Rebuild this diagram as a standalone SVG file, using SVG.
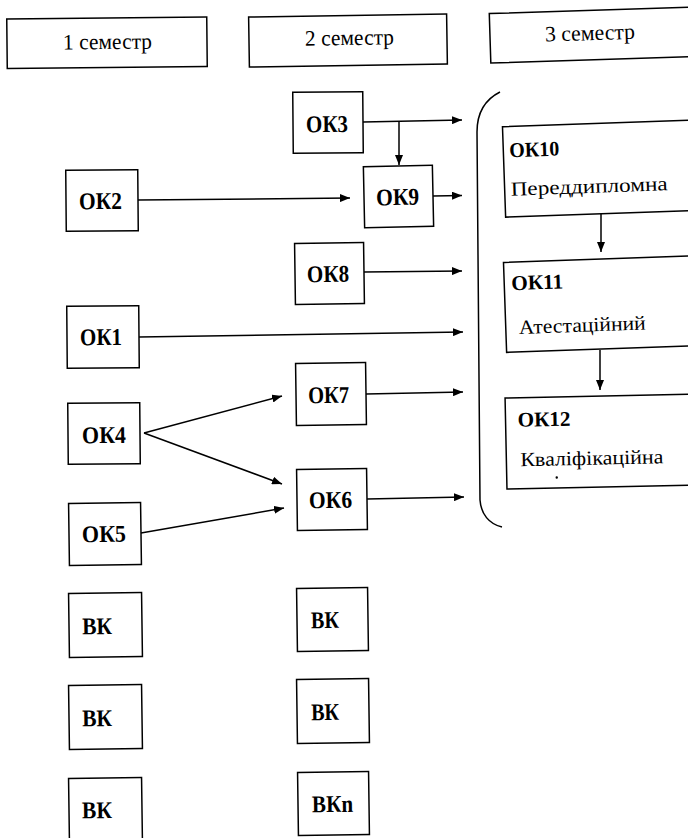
<svg xmlns="http://www.w3.org/2000/svg" width="688" height="838" viewBox="0 0 688 838">
<style>
.box{fill:#fff;stroke:#000;stroke-width:1.5}
text{font-family:"Liberation Serif","DejaVu Serif",serif;fill:#000}
.hdr{font-size:22px}
.lbl{font-weight:bold;font-size:24px}
.lbl2{font-weight:bold;font-size:21px}
.txt{font-size:20px}
.conn{stroke:#000;stroke-width:1.5;fill:none}
</style>
<defs>
<marker id="arr" markerUnits="userSpaceOnUse" markerWidth="10" markerHeight="8" refX="10" refY="4" orient="auto">
<path d="M0,0 L10,4 L0,8 z" fill="#000"/>
</marker>
</defs>
<rect width="688" height="838" fill="#fff"/>

<g id="sem1" transform="rotate(-0.6 107 42.75)">
<rect class="box" x="7" y="18" width="200" height="49.5"/>
<text class="hdr" x="63" y="49" textLength="89" lengthAdjust="spacingAndGlyphs">1 семестр</text>
</g>
<g id="sem2" transform="rotate(-0.9 348 40.5)">
<rect class="box" x="249" y="15.5" width="198" height="50"/>
<text class="hdr" x="305" y="45" textLength="89" lengthAdjust="spacingAndGlyphs">2 семестр</text>
</g>
<g id="sem3" transform="rotate(-1.8 595 35)">
<rect class="box" x="490" y="10.25" width="210" height="49.5"/>
<text class="hdr" x="545" y="40" textLength="90" lengthAdjust="spacingAndGlyphs">3 семестр</text>
</g>

<g id="ok3" transform="rotate(-0.5 328 122.5)">
<rect class="box" x="293" y="92" width="70" height="61"/>
<text class="lbl" x="306" y="132" textLength="42" lengthAdjust="spacingAndGlyphs">ОК3</text>
</g>
<g id="ok9" transform="rotate(-1.2 398.5 196.5)">
<rect class="box" x="364" y="166" width="69" height="61"/>
<text class="lbl" x="376" y="205" textLength="43" lengthAdjust="spacingAndGlyphs">ОК9</text>
</g>
<g id="ok2" transform="rotate(-0.5 102 200.5)">
<rect class="box" x="66" y="170" width="72" height="61"/>
<text class="lbl" x="79" y="209" textLength="43" lengthAdjust="spacingAndGlyphs">ОК2</text>
</g>
<g id="ok8" transform="rotate(-0.8 329.5 273.5)">
<rect class="box" x="295" y="243" width="69" height="61"/>
<text class="lbl" x="307" y="282" textLength="42" lengthAdjust="spacingAndGlyphs">ОК8</text>
</g>
<g id="ok1" transform="rotate(-0.5 103 337)">
<rect class="box" x="67" y="306" width="72" height="62"/>
<text class="lbl" x="80" y="345" textLength="42" lengthAdjust="spacingAndGlyphs">ОК1</text>
</g>
<g id="ok7" transform="rotate(-0.8 331 394)">
<rect class="box" x="296" y="363" width="70" height="62"/>
<text class="lbl" x="308" y="403" textLength="41" lengthAdjust="spacingAndGlyphs">ОК7</text>
</g>
<g id="ok4" transform="rotate(-0.5 104 433.5)">
<rect class="box" x="68" y="403" width="72" height="61"/>
<text class="lbl" x="82" y="443" textLength="44" lengthAdjust="spacingAndGlyphs">ОК4</text>
</g>
<g id="ok6" transform="rotate(-0.8 332 499.5)">
<rect class="box" x="297" y="469" width="70" height="61"/>
<text class="lbl" x="309" y="508" textLength="43" lengthAdjust="spacingAndGlyphs">ОК6</text>
</g>
<g id="ok5" transform="rotate(-0.8 105 534)">
<rect class="box" x="69" y="503" width="72" height="62"/>
<text class="lbl" x="82" y="542" textLength="44" lengthAdjust="spacingAndGlyphs">ОК5</text>
</g>

<g id="vk1" transform="rotate(-0.8 105.5 625)">
<rect class="box" x="69" y="593" width="73" height="64"/>
<text class="lbl" x="82" y="634" textLength="30" lengthAdjust="spacingAndGlyphs">ВК</text>
</g>
<g id="vk2" transform="rotate(-0.8 105.5 717)">
<rect class="box" x="69" y="685" width="73" height="64"/>
<text class="lbl" x="82" y="726" textLength="30" lengthAdjust="spacingAndGlyphs">ВК</text>
</g>
<g id="vk3" transform="rotate(-0.8 105.5 810)">
<rect class="box" x="69" y="778" width="73" height="64"/>
<text class="lbl" x="82" y="818" textLength="30" lengthAdjust="spacingAndGlyphs">ВК</text>
</g>
<g id="vk4" transform="rotate(-0.8 332.5 619.5)">
<rect class="box" x="297" y="588" width="71" height="63"/>
<text class="lbl" x="311" y="628" textLength="28" lengthAdjust="spacingAndGlyphs">ВК</text>
</g>
<g id="vk5" transform="rotate(-0.8 333 711)">
<rect class="box" x="297" y="679" width="72" height="64"/>
<text class="lbl" x="311" y="720" textLength="28" lengthAdjust="spacingAndGlyphs">ВК</text>
</g>
<g id="vkn" transform="rotate(-0.8 333.5 803.5)">
<rect class="box" x="298" y="772" width="71" height="63"/>
<text class="lbl" x="312" y="812" textLength="41" lengthAdjust="spacingAndGlyphs">ВКn</text>
</g>

<g id="ok10" transform="rotate(-2 602 168.5)">
<rect class="box" x="504" y="123.25" width="196" height="90.5"/>
<text class="lbl2" x="510" y="154" textLength="50" lengthAdjust="spacingAndGlyphs">ОК10</text>
<text class="txt" x="510" y="192.5" textLength="157" lengthAdjust="spacingAndGlyphs">Переддипломна</text>
</g>
<g id="ok11" transform="rotate(-2 602.5 304)">
<rect class="box" x="505" y="259" width="195" height="90"/>
<text class="lbl2" x="512" y="287" textLength="52" lengthAdjust="spacingAndGlyphs">ОК11</text>
<text class="txt" x="518" y="331" textLength="127" lengthAdjust="spacingAndGlyphs">Атестаційний</text>
</g>
<g id="ok12" transform="rotate(-1.2 603 441.5)">
<rect class="box" x="506" y="396" width="194" height="91"/>
<text class="lbl2" x="518" y="425" textLength="53" lengthAdjust="spacingAndGlyphs">ОК12</text>
<text class="txt" x="520" y="464.5" textLength="143" lengthAdjust="spacingAndGlyphs">Кваліфікаційна</text>
<circle cx="556" cy="476.5" r="1.2" fill="#000"/>
</g>

<g id="connectors">
<path class="conn" d="M500,92 C486,99 477,112 477,132 L480,500 C481,514 489,524 502,527"/>
<line class="conn" x1="363" y1="122" x2="462" y2="120" marker-end="url(#arr)"/>
<line class="conn" x1="399" y1="121" x2="399" y2="165" marker-end="url(#arr)"/>
<line class="conn" x1="138" y1="200" x2="350" y2="198" marker-end="url(#arr)"/>
<line class="conn" x1="433" y1="196" x2="462" y2="195.5" marker-end="url(#arr)"/>
<line class="conn" x1="364" y1="272" x2="462" y2="271" marker-end="url(#arr)"/>
<line class="conn" x1="139" y1="337" x2="463" y2="332" marker-end="url(#arr)"/>
<line class="conn" x1="144" y1="433" x2="282" y2="396" marker-end="url(#arr)"/>
<line class="conn" x1="144" y1="433" x2="282" y2="484" marker-end="url(#arr)"/>
<line class="conn" x1="366" y1="394" x2="463" y2="392" marker-end="url(#arr)"/>
<line class="conn" x1="141" y1="533" x2="284" y2="508" marker-end="url(#arr)"/>
<line class="conn" x1="367" y1="499" x2="464" y2="497" marker-end="url(#arr)"/>
<line class="conn" x1="601" y1="214" x2="601" y2="252" marker-end="url(#arr)"/>
<line class="conn" x1="600" y1="350" x2="600" y2="390" marker-end="url(#arr)"/>
</g>
</svg>
